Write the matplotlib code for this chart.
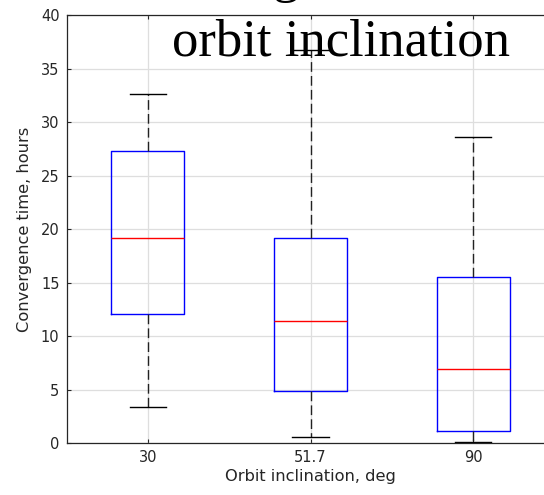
import matplotlib.pyplot as plt

# summary stats (hours)
inclinations = ['30', '51.7', '90']
whisker_low = [3.36, 0.56, 0.09]
q1 = [12.04, 4.91, 1.18]
median = [19.17, 11.42, 6.97]
q3 = [27.32, 19.13, 15.5]
whisker_high = [32.6, 36.7, 28.63]

stats = []
for i in range(len(inclinations)):
    stats.append({'label': inclinations[i], 'whislo': whisker_low[i], 'q1': q1[i],
                  'med': median[i], 'q3': q3[i], 'whishi': whisker_high[i], 'fliers': []})

axcol = '#262626'
fig = plt.figure(figsize=(5.44, 4.95), dpi=100)
ax = fig.add_axes([66.5 / 544, 51.7 / 495, 488 / 544, 428.3 / 495])

ax.bxp(stats, positions=[1, 2, 3], widths=0.45, showfliers=False,
       boxprops=dict(color='blue', linewidth=1.0),
       medianprops=dict(color='red', linewidth=1.0),
       whiskerprops=dict(color='#222222', linewidth=1.0, linestyle=(0, (7, 3))),
       capprops=dict(color='black', linewidth=1.0))

ax.set_xlim(0.5, 3.5)
ax.set_ylim(0, 40)
ax.set_yticks(range(0, 41, 5))
ax.grid(True, color='#dedede', linewidth=0.9)
ax.set_axisbelow(True)
for s in ax.spines.values():
    s.set_color(axcol)
    s.set_linewidth(0.9)
ax.tick_params(direction='in', length=3, colors=axcol, labelsize=10.5, pad=5, top=True)
ax.set_xlabel('Orbit inclination, deg', fontsize=11.7, color=axcol, labelpad=3)
ax.set_ylabel('Convergence time, hours', fontsize=11.7, color=axcol, labelpad=6)

# two-line serif title, top line partly off the canvas
fig.text(340.7 / 544, (495 + 8) / 495, 'Convergence time vs', fontsize=38,
         family='Liberation Serif', ha='center', va='baseline', color='black')
fig.text(340.7 / 544, (495 - 55) / 495, 'orbit inclination', fontsize=38,
         family='Liberation Serif', ha='center', va='baseline', color='black')

fig.savefig('out.png', dpi=100)
